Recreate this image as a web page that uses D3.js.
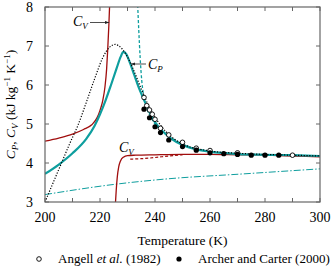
<!DOCTYPE html>
<html>
<head>
<meta charset="utf-8">
<script src="https://d3js.org/d3.v7.min.js"></script>
<style>
  body { margin: 0; background: #fff; }
  text, tspan { font-family: "Liberation Serif", "Times New Roman", Times, "DejaVu Serif", serif !important; }
</style>
</head>
<body>
<script>
// --- data ---
const cpT   = [200, 205, 210, 215, 218, 220, 222, 224, 226, 227.5, 228.5, 229.5, 231, 232.5, 234, 236, 238, 240, 243, 246, 250, 255, 260, 270, 280, 290, 300];
const cpVal = [3.72, 3.96, 4.25, 4.62, 4.95, 5.25, 5.6, 6.0, 6.42, 6.72, 6.85, 6.8, 6.55, 6.25, 5.95, 5.62, 5.3, 5.05, 4.8, 4.62, 4.46, 4.35, 4.29, 4.23, 4.21, 4.2, 4.18];

const dotT   = [200, 203, 206, 209, 212, 215, 218, 221, 223.5, 225.5, 228, 230, 232, 235, 238, 242, 246, 250, 260, 270, 280, 290, 300];
const dotVal = [3.0, 3.5, 4.0, 4.5, 4.97, 5.55, 6.15, 6.7, 6.97, 7.04, 6.93, 6.72, 6.42, 5.9, 5.42, 4.97, 4.67, 4.49, 4.31, 4.25, 4.22, 4.2, 4.18];

const dashT   = [233.7, 234.1, 234.6, 235.2, 236, 237, 238.5, 240, 243, 247, 252, 258];
const dashVal = [8.05, 7.4, 6.7, 6.1, 5.68, 5.4, 5.17, 5.0, 4.79, 4.6, 4.43, 4.32];

const cv1T   = [200, 205, 210, 214, 217, 219, 220, 221, 221.8, 222.4, 222.8, 223.2, 223.5];
const cv1Val = [4.56, 4.64, 4.74, 4.86, 4.98, 5.17, 5.35, 5.6, 5.95, 6.4, 6.9, 7.5, 8.05];

const cv2T   = [225.6, 225.9, 226.3, 226.8, 227.5, 228.5, 230, 233, 240, 250, 260, 270, 280, 290, 300];
const cv2Val = [2.95, 3.3, 3.65, 3.9, 4.06, 4.15, 4.19, 4.2, 4.21, 4.22, 4.22, 4.21, 4.2, 4.18, 4.16];

const cvDashT   = [231, 235, 240, 245, 250];
const cvDashVal = [4.1, 4.11, 4.14, 4.18, 4.21];

const dashDotT   = [200, 225, 244, 272, 300];
const dashDotVal = [3.19, 3.45, 3.59, 3.72, 3.85];

const angellT   = [236, 237, 238, 239, 240, 242, 245, 250, 255, 260, 270, 290];
const angellVal = [5.68, 5.47, 5.36, 5.25, 5.12, 4.89, 4.72, 4.53, 4.38, 4.32, 4.26, 4.2];

const archerT   = [236, 238, 240, 242, 245, 250, 255, 260, 265, 270, 275, 280, 285];
const archerVal = [5.38, 5.16, 4.93, 4.78, 4.59, 4.42, 4.33, 4.26, 4.24, 4.22, 4.2, 4.2, 4.2];

const xTicks = d3.range(200, 301, 10);
const xLabels = [200, 220, 240, 260, 280, 300];
const yTicks = [3, 4, 5, 6, 7, 8];

const W = 332, H = 267;
const m = {left: 45, right: 12, top: 7, bottom: 65};
const teal = "#0e9e9e", red = "#a00d0d";

const svg = d3.select("body").append("svg").attr("width", W).attr("height", H);

const x = d3.scaleLinear().domain([200, 300]).range([m.left, W - m.right]);
const y = d3.scaleLinear().domain([3, 8]).range([H - m.bottom, m.top]);

const defs = svg.append("defs");
defs.append("clipPath").attr("id", "clip")
  .append("rect").attr("x", m.left).attr("y", m.top)
  .attr("width", W - m.left - m.right).attr("height", H - m.top - m.bottom);
defs.append("marker").attr("id", "arr")
  .attr("viewBox", "0 0 10 10").attr("refX", 10).attr("refY", 5)
  .attr("markerWidth", 7).attr("markerHeight", 5).attr("orient", "auto")
  .append("path").attr("d", "M0,1 L10,5 L0,9 Z").attr("fill", "#222");

const zip = (a, b) => a.map((t, i) => [t, b[i]]);
const path = d3.line().x(d => x(d[0])).y(d => y(d[1])).curve(d3.curveMonotoneX);

const g = svg.append("g").attr("clip-path", "url(#clip)");

g.append("path").attr("d", path(zip(dashDotT, dashDotVal))).attr("fill", "none")
  .attr("stroke", teal).attr("stroke-width", 1).attr("stroke-dasharray", "7,2,1.5,2");
g.append("path").attr("d", path(zip(cvDashT, cvDashVal))).attr("fill", "none")
  .attr("stroke", red).attr("stroke-width", 1.2).attr("stroke-dasharray", "3,2");
g.append("path").attr("d", path(zip(cv1T, cv1Val))).attr("fill", "none")
  .attr("stroke", red).attr("stroke-width", 1.3);
g.append("path").attr("d", path(zip(cv2T, cv2Val))).attr("fill", "none")
  .attr("stroke", red).attr("stroke-width", 1.3);
g.append("path").attr("d", path(zip(cpT, cpVal))).attr("fill", "none")
  .attr("stroke", teal).attr("stroke-width", 2.2);
g.append("path").attr("d", path(zip(dashT, dashVal))).attr("fill", "none")
  .attr("stroke", teal).attr("stroke-width", 1.3).attr("stroke-dasharray", "3,2");
g.append("path").attr("d", path(zip(dotT, dotVal))).attr("fill", "none")
  .attr("stroke", "#000").attr("stroke-width", 1.2).attr("stroke-dasharray", "1.2,1.6");

g.selectAll("circle.ang").data(zip(angellT, angellVal)).join("circle")
  .attr("cx", d => x(d[0])).attr("cy", d => y(d[1])).attr("r", 2.3)
  .attr("fill", "#fff").attr("stroke", "#000").attr("stroke-width", 0.9);
g.selectAll("circle.arc").data(zip(archerT, archerVal)).join("circle")
  .attr("cx", d => x(d[0])).attr("cy", d => y(d[1])).attr("r", 2.6)
  .attr("fill", "#000");

// frame and inward ticks
const frame = "#666";
svg.append("rect").attr("x", m.left).attr("y", m.top)
  .attr("width", W - m.left - m.right).attr("height", H - m.top - m.bottom)
  .attr("fill", "none").attr("stroke", frame).attr("stroke-width", 1.2);

const tl = 4;
xTicks.forEach(t => {
  svg.append("line").attr("x1", x(t)).attr("x2", x(t)).attr("y1", y(3)).attr("y2", y(3) - tl).attr("stroke", frame);
  svg.append("line").attr("x1", x(t)).attr("x2", x(t)).attr("y1", y(8)).attr("y2", y(8) + tl).attr("stroke", frame);
});
yTicks.forEach(v => {
  svg.append("line").attr("x1", x(200)).attr("x2", x(200) + tl).attr("y1", y(v)).attr("y2", y(v)).attr("stroke", frame);
  svg.append("line").attr("x1", x(300)).attr("x2", x(300) - tl).attr("y1", y(v)).attr("y2", y(v)).attr("stroke", frame);
});

svg.selectAll("text.xl").data(xLabels).join("text")
  .attr("x", d => x(d)).attr("y", y(3) + 20).attr("text-anchor", "middle")
  .attr("font-size", 14).text(d => d);
svg.selectAll("text.yl").data(yTicks).join("text")
  .attr("x", m.left - 12).attr("y", d => y(d) + 5).attr("text-anchor", "end")
  .attr("font-size", 14).text(d => d);

svg.append("text").attr("x", (m.left + W - m.right) / 2).attr("y", 245)
  .attr("text-anchor", "middle").attr("font-size", 13.5).text("Temperature (K)");

// y title
const yt = svg.append("text").attr("transform", `translate(15,${(m.top + H - m.bottom) / 2}) rotate(-90)`)
  .attr("text-anchor", "middle").attr("font-size", 13.5);
yt.append("tspan").attr("font-style", "italic").text("C");
yt.append("tspan").attr("font-style", "italic").attr("font-size", 9).attr("dy", 3).text("P");
yt.append("tspan").attr("dy", -3).text(", ");
yt.append("tspan").attr("font-style", "italic").text("C");
yt.append("tspan").attr("font-style", "italic").attr("font-size", 9).attr("dy", 3).text("V");
yt.append("tspan").attr("dy", -3).text(" (kJ kg");
yt.append("tspan").attr("font-size", 9).attr("dy", -5).text("−1");
yt.append("tspan").attr("dy", 5).text(" K");
yt.append("tspan").attr("font-size", 9).attr("dy", -5).text("−1");
yt.append("tspan").attr("dy", 5).text(")");

function sym(px, py, sub) {
  const t = svg.append("text").attr("x", px).attr("y", py).attr("font-size", 14).attr("font-style", "italic");
  t.append("tspan").text("C");
  t.append("tspan").attr("font-size", 9).attr("dy", 3).text(sub);
}
sym(73, 26, "V");
sym(148, 69, "P");
sym(119, 152, "V");

svg.append("line").attr("x1", 90).attr("y1", 22.5).attr("x2", x(223.3)).attr("y2", 22.5)
  .attr("stroke", "#222").attr("stroke-width", 0.8).attr("marker-end", "url(#arr)");
svg.append("line").attr("x1", 146).attr("y1", 64).attr("x2", 131).attr("y2", 64)
  .attr("stroke", "#222").attr("stroke-width", 0.8).attr("marker-end", "url(#arr)");

// legend
svg.append("circle").attr("cx", 39).attr("cy", 259).attr("r", 2.3)
  .attr("fill", "#fff").attr("stroke", "#000").attr("stroke-width", 0.9);
const l1 = svg.append("text").attr("x", 58).attr("y", 263).attr("font-size", 13);
l1.append("tspan").text("Angell ");
l1.append("tspan").attr("font-style", "italic").text("et al.");
l1.append("tspan").text(" (1982)");
svg.append("circle").attr("cx", 179).attr("cy", 259).attr("r", 2.6).attr("fill", "#000");
svg.append("text").attr("x", 198).attr("y", 263).attr("font-size", 13).text("Archer and Carter (2000)");
</script>
</body>
</html>
